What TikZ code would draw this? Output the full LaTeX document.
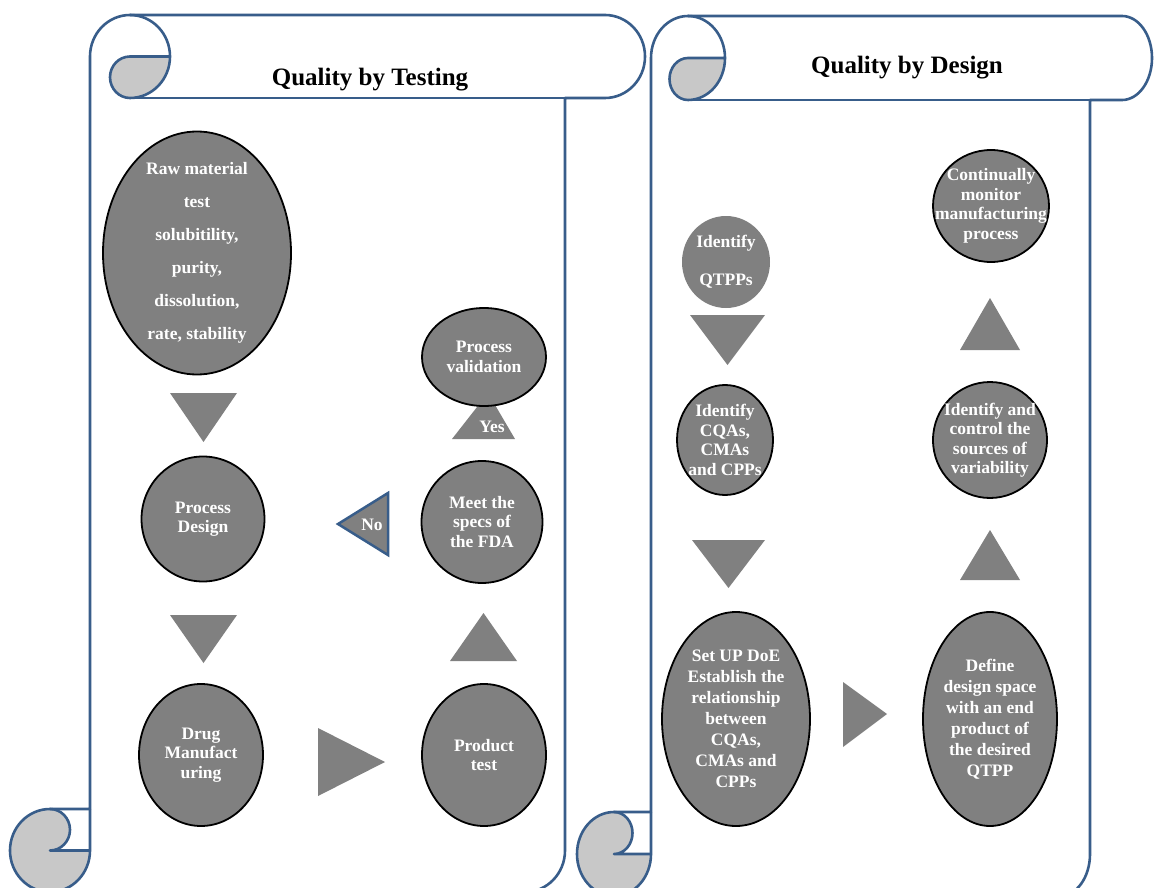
\documentclass[tikz,border=0pt]{standalone}
\usepackage{fontspec}
\setmainfont{Liberation Serif}
\usetikzlibrary{shapes.geometric}

\definecolor{scrollblue}{HTML}{385D8A}
\definecolor{curlgray}{HTML}{C8C8C8}
\definecolor{bubblegray}{HTML}{808080}

\tikzset{
  scrollline/.style={draw=scrollblue, line width=2.6pt, line join=round},
  curl/.style={fill=curlgray},
  bubble/.style={ellipse, fill=bubblegray, draw=black, line width=1.8pt, inner sep=0pt},
  flatbubble/.style={ellipse, fill=bubblegray, inner sep=0pt},
  bubbletext/.style={text=white, align=center, inner sep=0pt,
    font=\bfseries\fontsize{17.5}{19.5}\selectfont},
  tri/.style={fill=bubblegray},
  title/.style={font=\bfseries\fontsize{25}{28}\selectfont, text=black},
}

% vertical scroll: #1 left, #2 top, #3 bottom, #4/#5 roll size (x/y),
% #6 right edge of the sheet, #7 right end of the top roll, #8 end radius
\newcommand\scrollshape[8]{%
  \pgfmathsetmacro\sxl{#1+#4}%
  \pgfmathsetmacro\shx{#4/2}\pgfmathsetmacro\shy{#5/2}%
  \pgfmathsetmacro\sqx{#4/4}\pgfmathsetmacro\sqy{#5/4}%
  \pgfmathsetmacro\sxc{#1+1.5*#4}\pgfmathsetmacro\sxf{#1+2*#4}%
  \pgfmathsetmacro\sych{#2+#5}\pgfmathsetmacro\syc{#2+#5/2}%
  \pgfmathsetmacro\sythree{#3-#5}\pgfmathsetmacro\syfour{#3-#5/2}%
  \pgfmathsetmacro\sbx{#1+#4/2}\pgfmathsetmacro\sxe{#7-#8}%
  \def\scrollbody{(\sxl,\sythree) -- (\sxl,\syc)
    arc[start angle=180,end angle=270,x radius=\shx,y radius=\shy]
    -- (\sxe,#2) arc[start angle=270,end angle=450,x radius=#8,y radius=\shy]
    -- (#6,\sych) -- (#6,\syfour)
    arc[start angle=0,end angle=90,x radius=#8,y radius=\shy]
    -- (\sbx,#3) arc[start angle=90,end angle=270,x radius=\shx,y radius=\shy]
    -- cycle}%
  \fill[white] \scrollbody;
  \fill[curl] (\sxf,\syc) arc[start angle=0,end angle=90,x radius=\shx,y radius=\shy]
    arc[start angle=90,end angle=270,x radius=\sqx,y radius=\sqy] -- cycle;
  \fill[curl] (\sxl,\syfour) arc[start angle=0,end angle=270,x radius=\shx,y radius=\shy]
    arc[start angle=270,end angle=450,x radius=\sqx,y radius=\sqy] -- cycle;
  \draw[scrollline] \scrollbody;
  \draw[scrollline] (\sxc,#2) arc[start angle=270,end angle=450,x radius=\shx,y radius=\shy]
    arc[start angle=90,end angle=270,x radius=\sqx,y radius=\sqy] -- (\sxf,\syc);
  \draw[scrollline] (#6,\sych) -- (\sxc,\sych);
  \draw[scrollline] (\sbx,\sythree) arc[start angle=270,end angle=450,x radius=\sqx,y radius=\sqy]
    -- (\sxl,\syfour);
  \draw[scrollline] (\sbx,#3) arc[start angle=90,end angle=0,x radius=\shx,y radius=\shy]
    -- (\sxl,\sythree);
}

\begin{document}
\begin{tikzpicture}[x=1pt,y=-1pt]
\useasboundingbox (0,0) rectangle (1154,888);
\clip (0,0) rectangle (1154,888);
\fill[white] (0,0) rectangle (1154,888);

% the two scrolls
\scrollshape{10}{15}{892}{80}{83}{565}{645}{40}
\scrollshape{577}{16}{896}{74}{84}{1090}{1152}{30}

\node[title] (ttest) at (370,80) {Quality by Testing};
\node[title] (tdesign) at (907,68) {Quality by Design};

% ---- quality by testing ----
\node[bubble, minimum width=188, minimum height=243] (raw) at (197,253) {};
\node[bubbletext, font=\bfseries\fontsize{17.5}{33}\selectfont] (rawt) at (raw.center)
  {Raw material\\test\\solubitility,\\purity,\\dissolution,\\rate, stability};
\fill[tri] (170,393) -- (237,393) -- (203.5,442) -- cycle;

\node[bubble, minimum width=123, minimum height=125] (pd) at (203,519) {};
\node[bubbletext] (pdt) at (pd.center) {Process\\Design};
\fill[tri] (170,615) -- (237,615) -- (203.5,663) -- cycle;

\node[bubble, minimum width=124, minimum height=142] (dm) at (201,755) {};
\node[bubbletext] (dmt) at (dm.center) {Drug\\Manufact\\uring};
\fill[tri] (318,728) -- (318,796) -- (385,762) -- cycle;

\node[bubble, minimum width=124, minimum height=142] (pt) at (484,755) {};
\node[bubbletext] (ptt) at (pt.center) {Product\\test};
\fill[tri] (450,661) -- (517,661) -- (483.5,613) -- cycle;

\node[bubble, minimum width=121, minimum height=122] (meet) at (482,522) {};
\node[bubbletext] (meett) at (meet.center) {Meet the\\specs of\\the FDA};

\filldraw[tri, draw=scrollblue, line width=2.5pt, line join=miter]
  (338,524) -- (388,493) -- (388,555) -- cycle;
\node[bubbletext] (no) at (372,525) {No};

\fill[tri] (452,439) -- (515,439) -- (488,393) -- cycle;
\node[bubbletext] (yes) at (492,427) {Yes};

\node[bubble, minimum width=124, minimum height=98] (pv) at (484,357) {};
\node[bubbletext] (pvt) at (pv.center) {Process\\validation};

% ---- quality by design ----
\node[flatbubble, minimum width=88, minimum height=92] (qtpp) at (726,262) {};
\node[bubbletext, font=\bfseries\fontsize{17.5}{38}\selectfont] (qtppt) at (qtpp.center) {Identify\\QTPPs};
\fill[tri] (690,315) -- (765,315) -- (727.5,365) -- cycle;

\node[bubble, minimum width=96, minimum height=110] (cqa) at (725,440) {};
\node[bubbletext] (cqat) at (cqa.center) {Identify\\CQAs,\\CMAs\\and CPPs};
\fill[tri] (692,540) -- (765,540) -- (728.5,588) -- cycle;

\node[bubble, minimum width=148, minimum height=214] (doe) at (736,719) {};
\node[bubbletext, font=\bfseries\fontsize{17.5}{21}\selectfont] (doet) at (doe.center)
  {Set UP DoE\\Establish the\\relationship\\between\\CQAs,\\CMAs and\\CPPs};
\fill[tri] (843,682) -- (843,747) -- (887,714) -- cycle;

\node[bubble, minimum width=134, minimum height=214] (dds) at (990,719) {};
\node[bubbletext, font=\bfseries\fontsize{17.5}{21}\selectfont] (ddst) at (dds.center)
  {Define\\design space\\with an end\\product of\\the desired\\QTPP};
\fill[tri] (960,580) -- (1020,580) -- (990,530) -- cycle;

\node[bubble, minimum width=114, minimum height=116] (iac) at (990,440) {};
\node[bubbletext] (iact) at (iac.center) {Identify and\\control the\\sources of\\variability};
\fill[tri] (960,350) -- (1020,350) -- (990,298) -- cycle;

\node[bubble, minimum width=116, minimum height=112] (cmm) at (991,206) {};
\node[bubbletext] (cmmt) at (cmm.center) {Continually\\monitor\\manufacturing\\process};
\end{tikzpicture}
\end{document}
